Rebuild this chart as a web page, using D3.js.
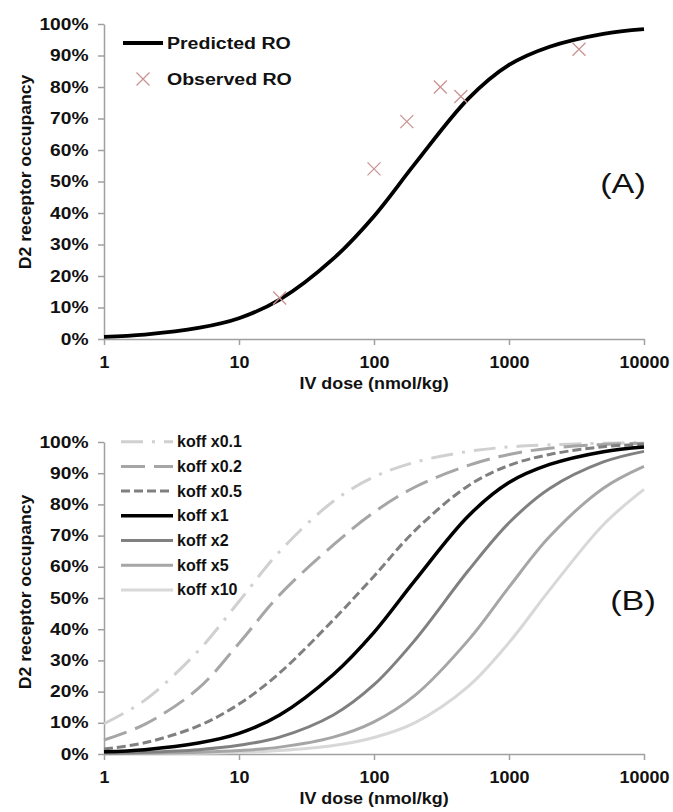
<!DOCTYPE html>
<html>
<head>
<meta charset="utf-8">
<script src="https://cdn.jsdelivr.net/npm/d3@7"></script>
<style>
body { margin: 0; background: #fff; }
text { font-family: Arial, "Liberation Sans", sans-serif; fill: #111; }
</style>
</head>
<body>
<div id="chart"></div>
<script>
let doses = [1, 2, 5, 10, 20, 50, 100, 200, 500, 1000, 2000, 5000, 10000];

// panel A
let predictedRO = [0.7, 1.4, 3.5, 6.6, 12.5, 25.5, 39, 55.5, 76.3, 87, 92.8, 96.9, 98.4];
let observedDose = [20, 100, 175, 310, 440, 3300];
let observedRO = [13, 54, 69, 80, 77, 92];

// panel B
let koffLabels = ["koff x0.1", "koff x0.2", "koff x0.5", "koff x1", "koff x2", "koff x5", "koff x10"];
let koff01 = [9.7, 17.2, 33.1, 48.9, 64.9, 81, 88.8, 93.5, 97, 98.4, 99.1, 99.6, 99.8];
let koff02 = [4.5, 9.5, 21, 35.5, 51, 67, 77.5, 85.5, 92.5, 96, 98, 99.2, 99.6];
let koff05 = [1.6, 3.6, 9, 16, 26, 43, 57, 71.5, 86, 92.5, 96, 98.5, 99.3];
let koff1 = [0.7, 1.4, 3.5, 6.6, 12.5, 25.5, 39, 55.5, 76.3, 87, 92.8, 96.9, 98.4];
let koff2 = [0.29, 0.57, 1.4, 2.8, 5.4, 12.5, 22.2, 36.4, 58.8, 74.1, 85.1, 93.6, 97];
let koff5 = [0.11, 0.23, 0.57, 1.1, 2.2, 5.4, 10.3, 18.7, 36.5, 53.5, 69.7, 85.2, 92.2];
let koff10 = [0.05, 0.11, 0.28, 0.55, 1.1, 2.7, 5.3, 10, 21.7, 35.7, 52.6, 73.5, 84.8];

// tick labels
let xTicks = [1, 10, 100, 1000, 10000];
let yTicks = [0, 10, 20, 30, 40, 50, 60, 70, 80, 90, 100];

let width = 673;
let height = 812;
let xLeft = 104;
let xRight = 644;

let svg = d3.select("#chart")
    .append("svg")
    .attr("width", width)
    .attr("height", height);

let x = d3.scaleLog().domain([1, 10000]).range([xLeft, xRight]);

function drawAxes(top, bottom, titleY) {
    let y = d3.scaleLinear().domain([0, 100]).range([bottom, top]);

    let gy = svg.append("g")
        .attr("transform", `translate(${xLeft},0)`)
        .call(d3.axisLeft(y).tickValues(yTicks).tickFormat(d => d + "%").tickSize(6).tickSizeOuter(0));
    let gx = svg.append("g")
        .attr("transform", `translate(0,${bottom})`)
        .call(d3.axisBottom(x).tickValues(xTicks).tickFormat(d3.format("d")).tickSize(6).tickSizeOuter(0));

    [gy, gx].forEach(g => {
        g.select(".domain").attr("stroke", "#a0a0a0").attr("stroke-width", 1.5);
        g.selectAll(".tick line").attr("stroke", "#a0a0a0").attr("stroke-width", 1.5);
        g.selectAll("text").attr("font-size", "16px").attr("font-weight", "bold").attr("fill", "#111");
    });
    gy.selectAll(".tick text")
        .attr("transform", "scale(1.2,1)")
        .attr("x", -15.5 / 1.2);
    gx.selectAll(".tick text")
        .attr("transform", "scale(1.12,1)")
        .attr("y", 29)
        .attr("dy", 0);

    // axis titles
    svg.append("text")
        .attr("transform", `translate(374,${bottom + 50}) scale(1.12,1)`)
        .attr("text-anchor", "middle")
        .attr("font-size", "16px")
        .attr("font-weight", "bold")
        .text("IV dose (nmol/kg)");
    svg.append("text")
        .attr("transform", `translate(31,${titleY}) rotate(-90) scale(1.1,1)`)
        .attr("text-anchor", "middle")
        .attr("font-size", "16px")
        .attr("font-weight", "bold")
        .text("D2 receptor occupancy");

    return y;
}

// ---------- panel A ----------
let yA = drawAxes(24, 339, 172);

let lineA = d3.line()
    .x((d, i) => x(doses[i]))
    .y(d => yA(d))
    .curve(d3.curveCatmullRom.alpha(0.5));

svg.append("path")
    .datum(predictedRO)
    .attr("d", lineA)
    .attr("fill", "none")
    .attr("stroke", "#000")
    .attr("stroke-width", 3.8);

let crossColor = "#c99393";
let cross = 6.5;
svg.selectAll(".obs")
    .data(observedRO)
    .enter()
    .append("path")
    .attr("class", "obs")
    .attr("d", (d, i) => {
        let cx = x(observedDose[i]), cy = yA(d);
        return `M${cx - cross},${cy - cross}L${cx + cross},${cy + cross}M${cx - cross},${cy + cross}L${cx + cross},${cy - cross}`;
    })
    .attr("stroke", crossColor)
    .attr("stroke-width", 1.3)
    .attr("fill", "none");

// legend A
svg.append("line")
    .attr("x1", 123).attr("x2", 163).attr("y1", 43).attr("y2", 43)
    .attr("stroke", "#000").attr("stroke-width", 3.8);
svg.append("path")
    .attr("d", `M${143 - cross},${79 - cross}L${143 + cross},${79 + cross}M${143 - cross},${79 + cross}L${143 + cross},${79 - cross}`)
    .attr("stroke", crossColor).attr("stroke-width", 1.3);
svg.append("text")
    .attr("transform", "translate(167,48.5) scale(1.15,1)")
    .attr("font-size", "17px").attr("font-weight", "bold")
    .text("Predicted RO");
svg.append("text")
    .attr("transform", "translate(167,84.5) scale(1.15,1)")
    .attr("font-size", "17px").attr("font-weight", "bold")
    .text("Observed RO");

svg.append("text")
    .attr("transform", "translate(623,193) scale(1.22,1)")
    .attr("text-anchor", "middle")
    .attr("font-size", "28px")
    .text("(A)");

// ---------- panel B ----------
let yB = drawAxes(442, 754, 592);

let koffSeries = [koff01, koff02, koff05, koff1, koff2, koff5, koff10];
let koffColors = ["#d0d0d0", "#a6a6a6", "#808080", "#000000", "#808080", "#a6a6a6", "#d8d8d8"];
let koffDash = ["22,9,3,9", "24,9", "9,4", null, null, null, null];
let koffWidth = [3, 3, 3, 3.5, 3, 3, 3];

let lineB = d3.line()
    .x((d, i) => x(doses[i]))
    .y(d => yB(d))
    .curve(d3.curveCatmullRom.alpha(0.5));

// draw light ones first, black last
let order = [6, 5, 4, 0, 1, 2, 3];
order.forEach(k => {
    svg.append("path")
        .datum(koffSeries[k])
        .attr("d", lineB)
        .attr("fill", "none")
        .attr("stroke", koffColors[k])
        .attr("stroke-width", koffWidth[k])
        .attr("stroke-dasharray", koffDash[k]);
});

// legend B
koffLabels.forEach((lab, k) => {
    let ly = 441.7 + k * 24.7;
    svg.append("line")
        .attr("x1", 121).attr("x2", 173).attr("y1", ly).attr("y2", ly)
        .attr("stroke", koffColors[k])
        .attr("stroke-width", koffWidth[k])
        .attr("stroke-dasharray", koffDash[k]);
    svg.append("text")
        .attr("x", 177).attr("y", ly + 5.5)
        .attr("font-size", "16px").attr("font-weight", "bold")
        .text(lab);
});

svg.append("text")
    .attr("transform", "translate(633,610) scale(1.22,1)")
    .attr("text-anchor", "middle")
    .attr("font-size", "28px")
    .text("(B)");
</script>
</body>
</html>
